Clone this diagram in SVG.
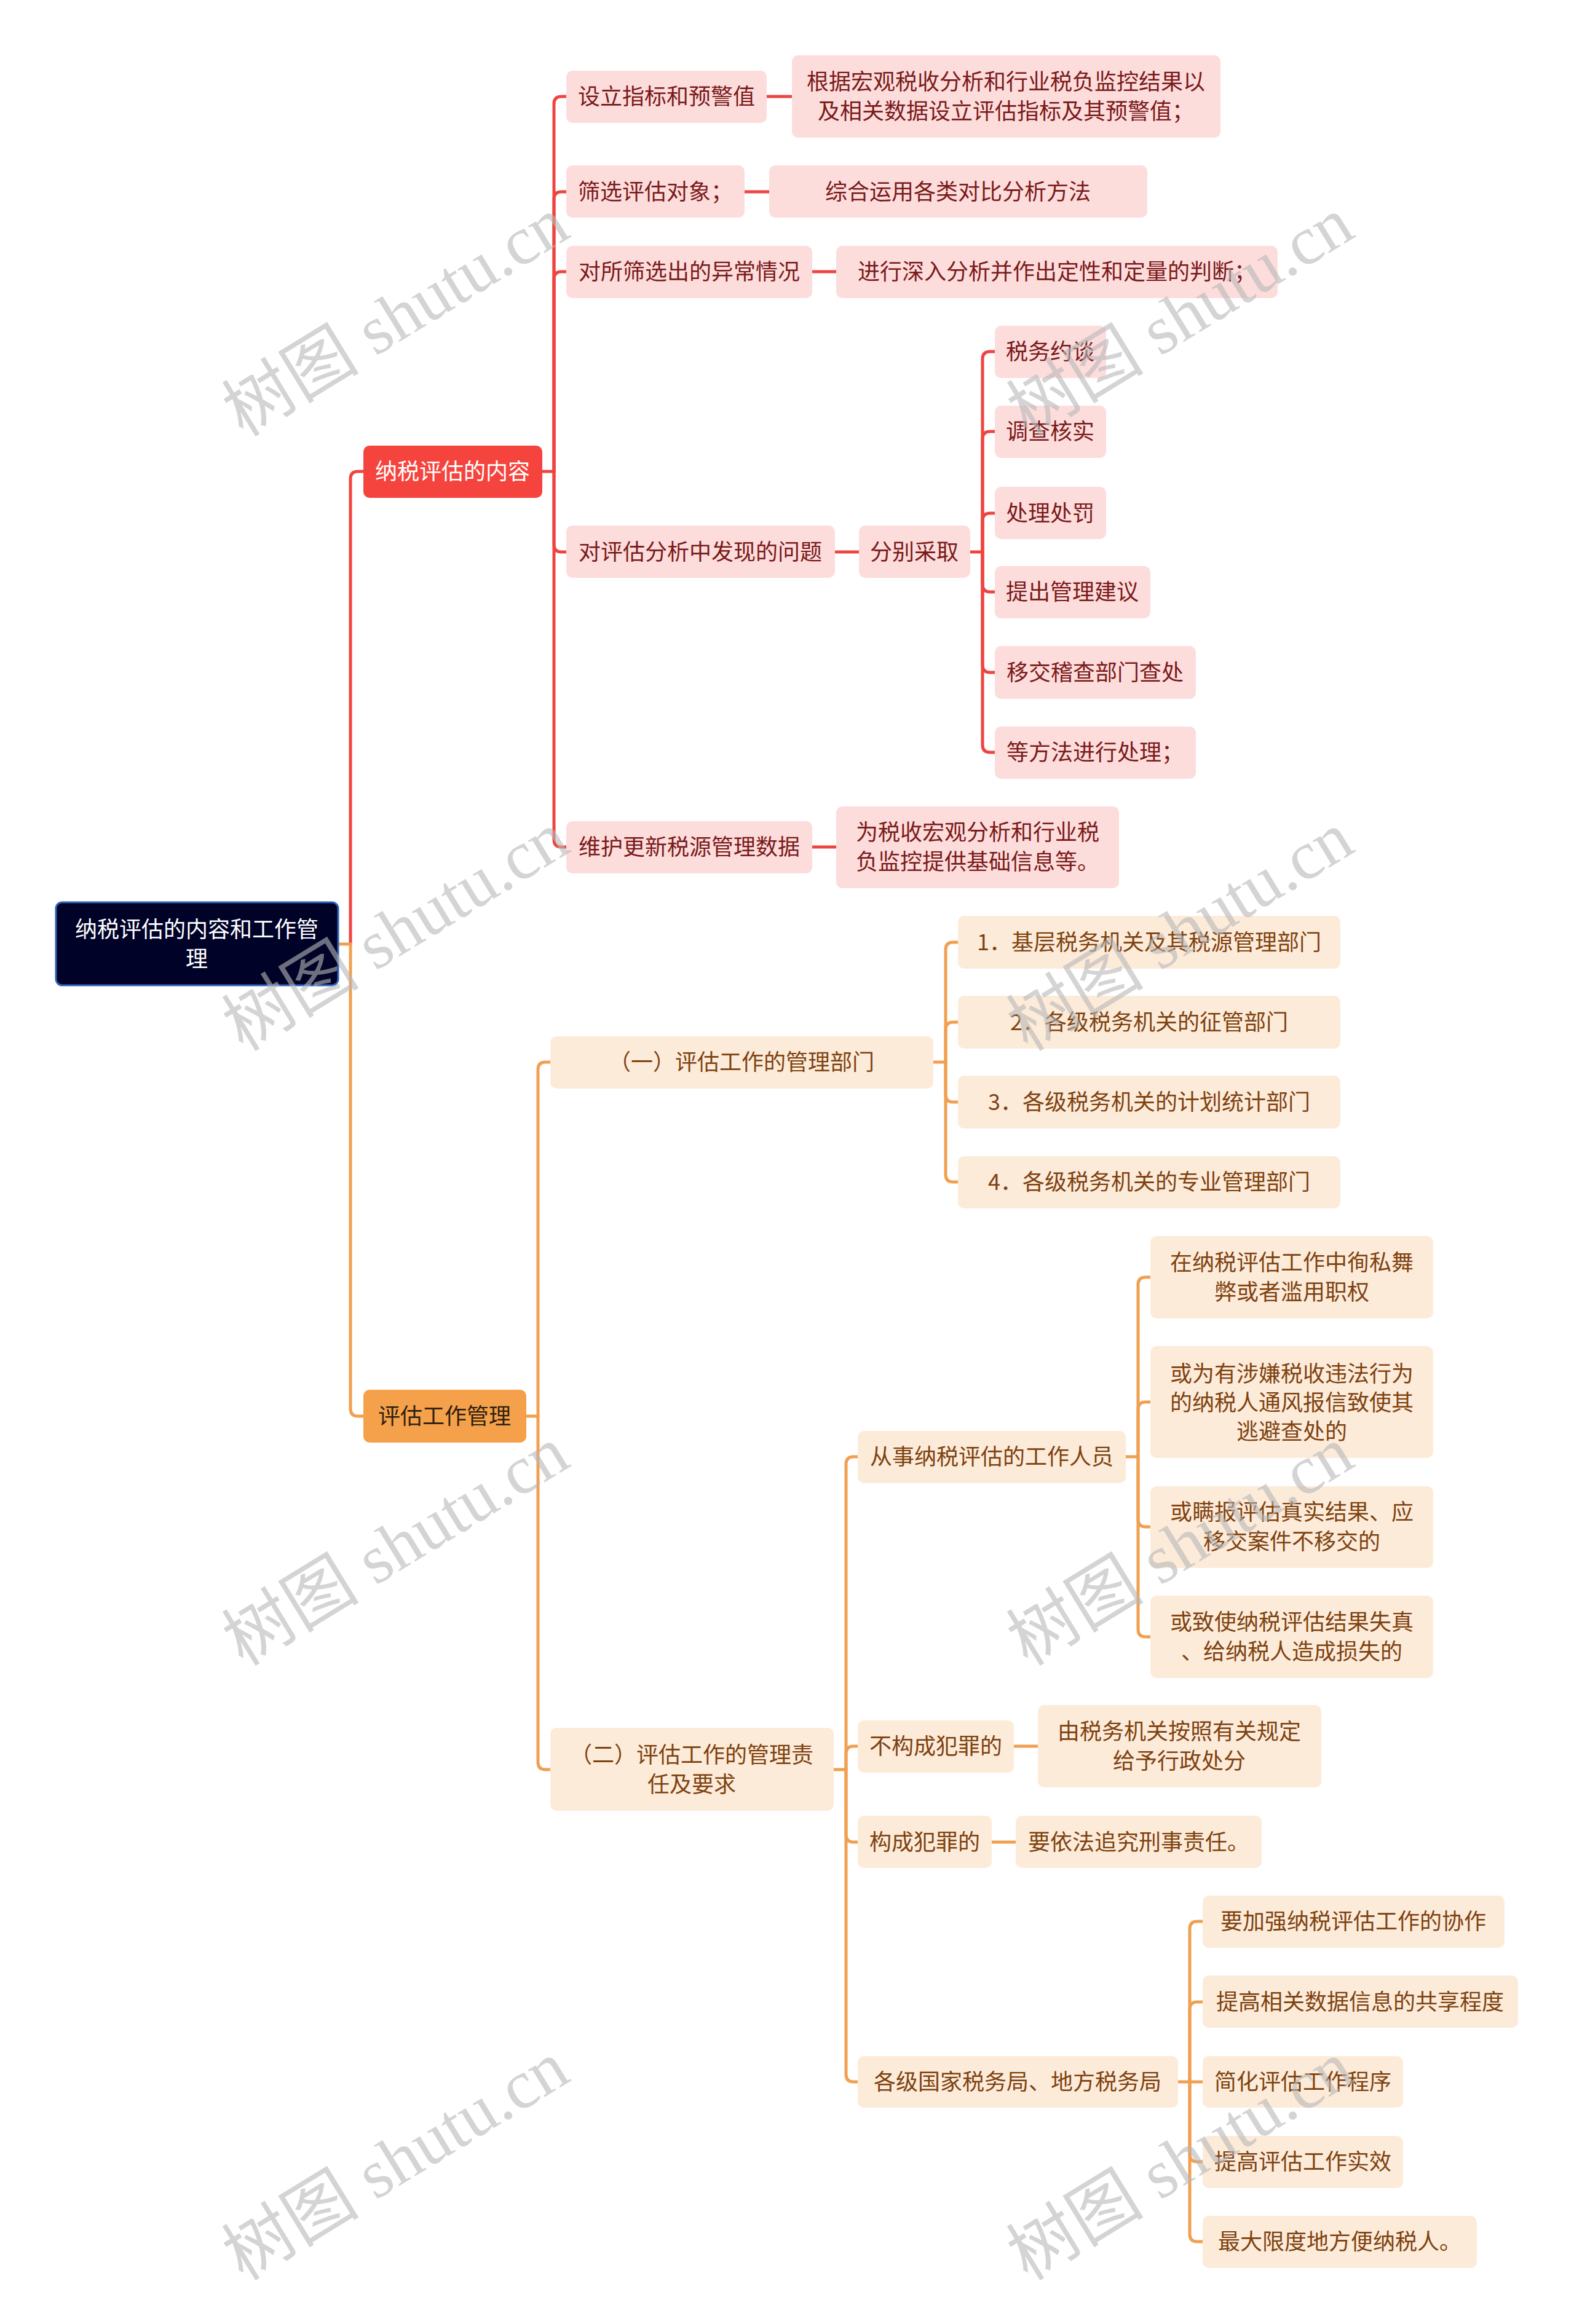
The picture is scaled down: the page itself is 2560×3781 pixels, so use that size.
<svg xmlns="http://www.w3.org/2000/svg" width="2560" height="3781" viewBox="0 0 2560 3781">
<style>
text{font-family:"Noto Sans CJK SC","Noto Sans",sans-serif;font-size:36px;text-anchor:middle}
.root rect{fill:#000228;stroke:#2f63b8;stroke-width:3}
.root text{fill:#ffffff}
.r1 rect{fill:#f5443e}
.r1 text{fill:#ffffff}
.o1 rect{fill:#f5a04a}
.o1 text{fill:#2e1f10}
.pk rect{fill:#fddcdc}
.pk text{fill:#7a1a1a}
.lo rect{fill:#fdebda}
.lo text{fill:#7e4210}
.red path{stroke:#ee4540;stroke-width:5;fill:none;stroke-linecap:round}
.org path{stroke:#f0a050;stroke-width:5;fill:none;stroke-linecap:round}
.wm text{font-family:"Liberation Serif","Noto Sans CJK SC",serif;font-size:112px;fill:#b8b8b8;opacity:0.6}
</style>
<rect width="2560" height="3781" fill="#ffffff"/>
<g id="connectors">
<g class="red">
<path d="M570,1536 V779 Q570,767 582,767 H591"/>
<path d="M882,767 H901"/>
<path d="M901,767 V169 Q901,157 913,157 H921"/>
<path d="M901,767 V324 Q901,312 913,312 H921"/>
<path d="M901,767 V454 Q901,442 913,442 H921"/>
<path d="M901,767 V886 Q901,898 913,898 H921"/>
<path d="M901,767 V1366 Q901,1378 913,1378 H921"/>
<path d="M1247,157 H1288"/>
<path d="M1211,312 H1251"/>
<path d="M1321,442 H1360"/>
<path d="M1358,898 H1397"/>
<path d="M1321,1378 H1360"/>
<path d="M1578,898 H1598"/>
<path d="M1598,898 V584 Q1598,572 1610,572 H1618"/>
<path d="M1598,898 V714 Q1598,702 1610,702 H1618"/>
<path d="M1598,898 V847 Q1598,835 1610,835 H1618"/>
<path d="M1598,898 V951 Q1598,963 1610,963 H1618"/>
<path d="M1598,898 V1082 Q1598,1094 1610,1094 H1618"/>
<path d="M1598,898 V1212 Q1598,1224 1610,1224 H1618"/>
</g>
<g class="org">
<path d="M550,1536 H570"/>
<path d="M570,1536 V2292 Q570,2304 582,2304 H591"/>
<path d="M856,2304 H875"/>
<path d="M875,2304 V1740 Q875,1728 887,1728 H895"/>
<path d="M875,2304 V2867 Q875,2879 887,2879 H895"/>
<path d="M1518,1728 H1538"/>
<path d="M1538,1728 V1545 Q1538,1533 1550,1533 H1558"/>
<path d="M1538,1728 V1675 Q1538,1663 1550,1663 H1558"/>
<path d="M1538,1728 V1781 Q1538,1793 1550,1793 H1558"/>
<path d="M1538,1728 V1911 Q1538,1923 1550,1923 H1558"/>
<path d="M1356,2879 H1376"/>
<path d="M1376,2879 V2382 Q1376,2370 1388,2370 H1395"/>
<path d="M1376,2879 V2853 Q1376,2841 1388,2841 H1395"/>
<path d="M1376,2879 V2985 Q1376,2997 1388,2997 H1395"/>
<path d="M1376,2879 V3375 Q1376,3387 1388,3387 H1395"/>
<path d="M1831,2370 H1851"/>
<path d="M1851,2370 V2090 Q1851,2078 1863,2078 H1871"/>
<path d="M1851,2370 V2293 Q1851,2281 1863,2281 H1871"/>
<path d="M1851,2370 V2472 Q1851,2484 1863,2484 H1871"/>
<path d="M1851,2370 V2651 Q1851,2663 1863,2663 H1871"/>
<path d="M1649,2841 H1688"/>
<path d="M1613,2997 H1652"/>
<path d="M1916,3387 H1956"/>
<path d="M1935,3387 V3138 Q1935,3126 1947,3126 H1956"/>
<path d="M1935,3387 V3269 Q1935,3257 1947,3257 H1956"/>
<path d="M1935,3387 V3505 Q1935,3517 1947,3517 H1956"/>
<path d="M1935,3387 V3635 Q1935,3647 1947,3647 H1956"/>
</g>
</g>
<g id="root" class="root"><rect x="91" y="1468" width="459" height="135" rx="10"/><text x="320" y="1525">纳税评估的内容和工作管</text><text x="320" y="1573">理</text></g>
<g id="n-content" class="r1"><rect x="591" y="725" width="291" height="85" rx="10"/><text x="736" y="780">纳税评估的内容</text></g>
<g id="n-manage" class="o1"><rect x="591" y="2261" width="265" height="86" rx="10"/><text x="723" y="2317">评估工作管理</text></g>
<g id="n-a1" class="pk"><rect x="921" y="115" width="326" height="85" rx="10"/><text x="1084" y="170">设立指标和预警值</text></g>
<g id="n-a1c" class="pk"><rect x="1288" y="90" width="697" height="134" rx="10"/><text x="1636" y="146">根据宏观税收分析和行业税负监控结果以</text><text x="1636" y="194">及相关数据设立评估指标及其预警值；</text></g>
<g id="n-a2" class="pk"><rect x="921" y="269" width="290" height="85" rx="10"/><text x="1066" y="325">筛选评估对象；</text></g>
<g id="n-a2c" class="pk"><rect x="1251" y="269" width="615" height="85" rx="10"/><text x="1558" y="325">综合运用各类对比分析方法</text></g>
<g id="n-a3" class="pk"><rect x="921" y="400" width="400" height="85" rx="10"/><text x="1121" y="455">对所筛选出的异常情况</text></g>
<g id="n-a3c" class="pk"><rect x="1360" y="400" width="718" height="85" rx="10"/><text x="1719" y="455">进行深入分析并作出定性和定量的判断；</text></g>
<g id="n-a4" class="pk"><rect x="921" y="855" width="437" height="85" rx="10"/><text x="1139" y="911">对评估分析中发现的问题</text></g>
<g id="n-a4c" class="pk"><rect x="1397" y="855" width="181" height="85" rx="10"/><text x="1487" y="911">分别采取</text></g>
<g id="n-b1" class="pk"><rect x="1618" y="530" width="181" height="85" rx="10"/><text x="1708" y="585">税务约谈</text></g>
<g id="n-b2" class="pk"><rect x="1618" y="660" width="181" height="85" rx="10"/><text x="1708" y="715">调查核实</text></g>
<g id="n-b3" class="pk"><rect x="1618" y="792" width="181" height="85" rx="10"/><text x="1708" y="848">处理处罚</text></g>
<g id="n-b4" class="pk"><rect x="1618" y="921" width="253" height="85" rx="10"/><text x="1744" y="976">提出管理建议</text></g>
<g id="n-b5" class="pk"><rect x="1618" y="1051" width="327" height="86" rx="10"/><text x="1781" y="1107">移交稽查部门查处</text></g>
<g id="n-b6" class="pk"><rect x="1618" y="1182" width="327" height="85" rx="10"/><text x="1781" y="1237">等方法进行处理；</text></g>
<g id="n-a5" class="pk"><rect x="921" y="1336" width="400" height="85" rx="10"/><text x="1121" y="1391">维护更新税源管理数据</text></g>
<g id="n-a5c" class="pk"><rect x="1360" y="1312" width="460" height="133" rx="10"/><text x="1590" y="1367">为税收宏观分析和行业税</text><text x="1590" y="1415">负监控提供基础信息等。</text></g>
<g id="n-c1" class="lo"><rect x="895" y="1686" width="623" height="85" rx="10"/><text x="1206" y="1741">（一）评估工作的管理部门</text></g>
<g id="n-c1a" class="lo"><rect x="1558" y="1490" width="622" height="86" rx="10"/><text x="1869" y="1546">1．基层税务机关及其税源管理部门</text></g>
<g id="n-c1b" class="lo"><rect x="1558" y="1620" width="622" height="86" rx="10"/><text x="1869" y="1676">2．各级税务机关的征管部门</text></g>
<g id="n-c1c" class="lo"><rect x="1558" y="1750" width="622" height="86" rx="10"/><text x="1869" y="1806">3．各级税务机关的计划统计部门</text></g>
<g id="n-c1d" class="lo"><rect x="1558" y="1881" width="622" height="85" rx="10"/><text x="1869" y="1936">4．各级税务机关的专业管理部门</text></g>
<g id="n-c2" class="lo"><rect x="895" y="2811" width="461" height="135" rx="10"/><text x="1125" y="2868">（二）评估工作的管理责</text><text x="1125" y="2916">任及要求</text></g>
<g id="n-d1" class="lo"><rect x="1395" y="2328" width="436" height="85" rx="10"/><text x="1613" y="2383">从事纳税评估的工作人员</text></g>
<g id="n-e1" class="lo"><rect x="1871" y="2011" width="460" height="134" rx="10"/><text x="2101" y="2067">在纳税评估工作中徇私舞</text><text x="2101" y="2115">弊或者滥用职权</text></g>
<g id="n-e2" class="lo"><rect x="1871" y="2190" width="460" height="182" rx="10"/><text x="2101" y="2248">或为有涉嫌税收违法行为</text><text x="2101" y="2295">的纳税人通风报信致使其</text><text x="2101" y="2342">逃避查处的</text></g>
<g id="n-e3" class="lo"><rect x="1871" y="2418" width="460" height="133" rx="10"/><text x="2101" y="2473">或瞒报评估真实结果、应</text><text x="2101" y="2521">移交案件不移交的</text></g>
<g id="n-e4" class="lo"><rect x="1871" y="2596" width="460" height="134" rx="10"/><text x="2101" y="2652">或致使纳税评估结果失真</text><text x="2101" y="2700">、给纳税人造成损失的</text></g>
<g id="n-d2" class="lo"><rect x="1395" y="2799" width="254" height="85" rx="10"/><text x="1522" y="2854">不构成犯罪的</text></g>
<g id="n-d2c" class="lo"><rect x="1688" y="2774" width="461" height="134" rx="10"/><text x="1918" y="2830">由税务机关按照有关规定</text><text x="1918" y="2878">给予行政处分</text></g>
<g id="n-d3" class="lo"><rect x="1395" y="2954" width="218" height="85" rx="10"/><text x="1504" y="3010">构成犯罪的</text></g>
<g id="n-d3c" class="lo"><rect x="1652" y="2954" width="400" height="85" rx="10"/><text x="1852" y="3010">要依法追究刑事责任。</text></g>
<g id="n-d4" class="lo"><rect x="1395" y="3345" width="521" height="84" rx="10"/><text x="1655" y="3400">各级国家税务局、地方税务局</text></g>
<g id="n-f1" class="lo"><rect x="1956" y="3084" width="491" height="85" rx="10"/><text x="2201" y="3139">要加强纳税评估工作的协作</text></g>
<g id="n-f2" class="lo"><rect x="1956" y="3214" width="513" height="85" rx="10"/><text x="2212" y="3270">提高相关数据信息的共享程度</text></g>
<g id="n-f3" class="lo"><rect x="1956" y="3345" width="326" height="84" rx="10"/><text x="2119" y="3400">简化评估工作程序</text></g>
<g id="n-f4" class="lo"><rect x="1956" y="3475" width="326" height="85" rx="10"/><text x="2119" y="3530">提高评估工作实效</text></g>
<g id="n-f5" class="lo"><rect x="1956" y="3605" width="446" height="85" rx="10"/><text x="2179" y="3660">最大限度地方便纳税人。</text></g>
<g class="wm">
<text transform="translate(645,518) rotate(-31.5)" y="35">树图 shutu.cn</text>
<text transform="translate(1921,518) rotate(-31.5)" y="35">树图 shutu.cn</text>
<text transform="translate(645,1518) rotate(-31.5)" y="35">树图 shutu.cn</text>
<text transform="translate(1921,1518) rotate(-31.5)" y="35">树图 shutu.cn</text>
<text transform="translate(645,2518) rotate(-31.5)" y="35">树图 shutu.cn</text>
<text transform="translate(1921,2518) rotate(-31.5)" y="35">树图 shutu.cn</text>
<text transform="translate(645,3518) rotate(-31.5)" y="35">树图 shutu.cn</text>
<text transform="translate(1921,3518) rotate(-31.5)" y="35">树图 shutu.cn</text>
</g>
</svg>
